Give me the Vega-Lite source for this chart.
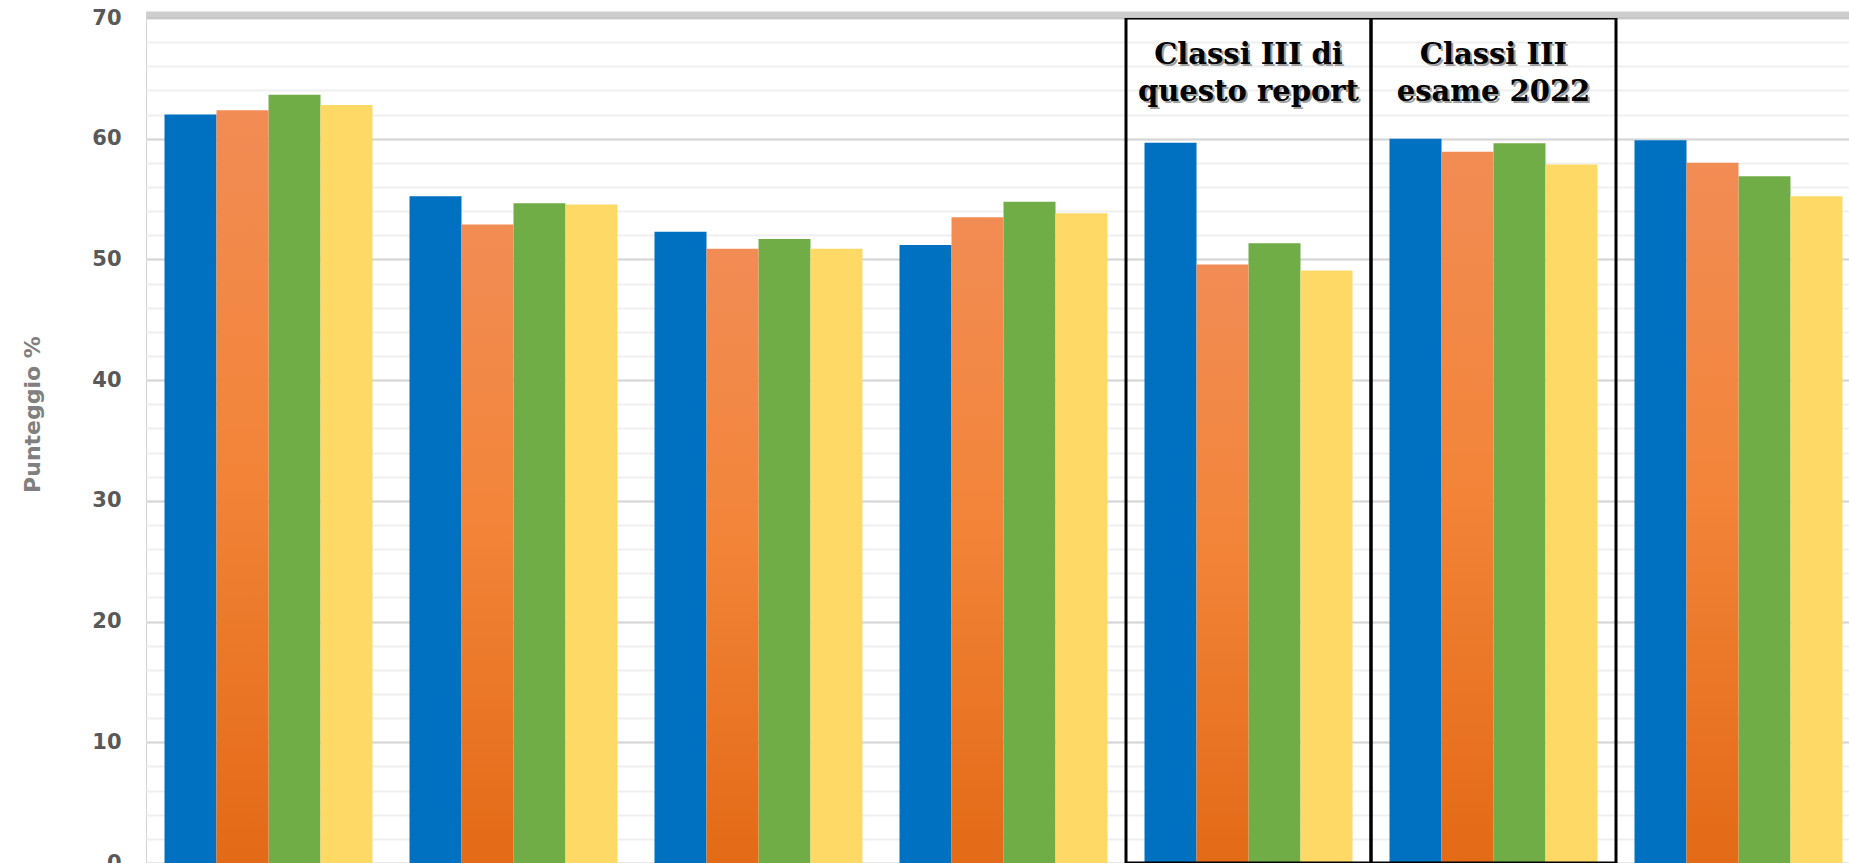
{
  "$schema": "https://vega.github.io/schema/vega-lite/v6.json",
  "width": 1703,
  "height": 845,
  "autosize": {"type": "none"},
  "padding": {"left": 146, "top": 18, "right": 0, "bottom": 0},
  "background": "white",
  "config": {"view": {"stroke": "#d4d4d4", "strokeWidth": 1}},
  "datasets": {
    "scores": [
      {"g": "Gruppo 1", "s": "Serie 1", "v": 62.0}, {"g": "Gruppo 1", "s": "Serie 2", "v": 62.36}, {"g": "Gruppo 1", "s": "Serie 3", "v": 63.64}, {"g": "Gruppo 1", "s": "Serie 4", "v": 62.8},
      {"g": "Gruppo 2", "s": "Serie 1", "v": 55.24}, {"g": "Gruppo 2", "s": "Serie 2", "v": 52.9}, {"g": "Gruppo 2", "s": "Serie 3", "v": 54.66}, {"g": "Gruppo 2", "s": "Serie 4", "v": 54.55},
      {"g": "Gruppo 3", "s": "Serie 1", "v": 52.29}, {"g": "Gruppo 3", "s": "Serie 2", "v": 50.88}, {"g": "Gruppo 3", "s": "Serie 3", "v": 51.7}, {"g": "Gruppo 3", "s": "Serie 4", "v": 50.88},
      {"g": "Gruppo 4", "s": "Serie 1", "v": 51.2}, {"g": "Gruppo 4", "s": "Serie 2", "v": 53.5}, {"g": "Gruppo 4", "s": "Serie 3", "v": 54.77}, {"g": "Gruppo 4", "s": "Serie 4", "v": 53.83},
      {"g": "Gruppo 5", "s": "Serie 1", "v": 59.66}, {"g": "Gruppo 5", "s": "Serie 2", "v": 49.58}, {"g": "Gruppo 5", "s": "Serie 3", "v": 51.34}, {"g": "Gruppo 5", "s": "Serie 4", "v": 49.08},
      {"g": "Gruppo 6", "s": "Serie 1", "v": 59.99}, {"g": "Gruppo 6", "s": "Serie 2", "v": 58.91}, {"g": "Gruppo 6", "s": "Serie 3", "v": 59.63}, {"g": "Gruppo 6", "s": "Serie 4", "v": 57.86},
      {"g": "Gruppo 7", "s": "Serie 1", "v": 59.88}, {"g": "Gruppo 7", "s": "Serie 2", "v": 58.0}, {"g": "Gruppo 7", "s": "Serie 3", "v": 56.89}, {"g": "Gruppo 7", "s": "Serie 4", "v": 55.24}
    ],
    "boxes": [
      {"g": "Gruppo 5", "label": ["Classi III di", "questo report"]},
      {"g": "Gruppo 6", "label": ["Classi III", "esame 2022"]}
    ]
  },
  "resolve": {"axis": {"y": "independent"}},
  "layer": [
    {
      "data": {"name": "scores"},
      "transform": [{"filter": "datum.s !== 'Serie 2'"}],
      "mark": {"type": "bar", "clip": true},
      "encoding": {
        "x": {"field": "g", "type": "nominal", "sort": null, "axis": null,
              "scale": {"domain": ["Gruppo 1", "Gruppo 2", "Gruppo 3", "Gruppo 4", "Gruppo 5", "Gruppo 6", "Gruppo 7"], "range": [0, 1715], "paddingInner": 0, "paddingOuter": 0}},
        "xOffset": {"field": "s", "type": "nominal",
                    "scale": {"domain": ["Serie 1", "Serie 2", "Serie 3", "Serie 4"], "paddingInner": 0, "paddingOuter": 0.356}},
        "y": {"field": "v", "type": "quantitative",
              "scale": {"domain": [0, 70], "nice": false, "zero": true},
              "axis": {"orient": "left", "values": [0,2,4,6,8,10,12,14,16,18,20,22,24,26,28,30,32,34,36,38,40,42,44,46,48,50,52,54,56,58,60,62,64,66,68,70],
                       "grid": true, "gridColor": "#efefef", "gridWidth": 2, "labels": false, "ticks": false, "domain": false, "title": null}},
        "color": {"field": "s", "type": "nominal", "legend": null,
                  "scale": {"domain": ["Serie 1", "Serie 3", "Serie 4"], "range": ["#0070C0", "#70AD47", "#FFD966"]}}
      }
    },
    {
      "data": {"name": "scores"},
      "transform": [{"filter": "datum.s === 'Serie 2'"}],
      "mark": {"type": "bar", "clip": true,
               "color": {"gradient": "linear", "x1": 0, "y1": 0, "x2": 0, "y2": 1,
                         "stops": [{"offset": 0, "color": "#F18C54"}, {"offset": 0.45, "color": "#F3853A"}, {"offset": 1, "color": "#E36A16"}]}},
      "encoding": {
        "x": {"field": "g", "type": "nominal", "sort": null, "axis": null},
        "xOffset": {"field": "s", "type": "nominal"},
        "y": {"field": "v", "type": "quantitative",
              "axis": {"orient": "left", "values": [0, 10, 20, 30, 40, 50, 60, 70],
                       "grid": true, "gridColor": "#d6d6d6", "gridWidth": 2, "ticks": false, "domain": false,
                       "labelPadding": 25, "labelFont": "DejaVu Sans", "labelFontSize": 21, "labelFontWeight": "bold", "labelColor": "#595959",
                       "title": "Punteggio %", "titleFont": "DejaVu Sans", "titleFontSize": 22, "titleFontWeight": "bold", "titleColor": "#808080",
                       "titlePadding": 47, "titleY": 396}}
      }
    },
    {
      "data": {"values": [{"top": 70}]},
      "mark": {"type": "rule", "color": "#a8a8a8", "strokeWidth": 7, "yOffset": -3, "opacity": 0.55},
      "encoding": {"y": {"field": "top", "type": "quantitative", "axis": null}}
    },
    {
      "data": {"name": "boxes"},
      "mark": {"type": "rect", "fill": null, "fillOpacity": 0, "stroke": "#000000", "strokeWidth": 3, "clip": true},
      "encoding": {
        "x": {"field": "g", "type": "nominal", "sort": null, "axis": null},
        "y": {"datum": 70, "type": "quantitative", "axis": null},
        "y2": {"datum": 0}
      }
    },
    {
      "data": {"name": "boxes"},
      "mark": {"type": "text", "font": "DejaVu Serif", "fontWeight": "bold", "fontSize": 29, "lineHeight": 37, "baseline": "alphabetic", "align": "center", "color": "#777777", "opacity": 0.7, "dx": 2, "dy": 2},
      "encoding": {
        "x": {"field": "g", "type": "nominal", "sort": null, "axis": null},
        "y": {"datum": 66.15, "type": "quantitative", "axis": null},
        "text": {"field": "label"}
      }
    },
    {
      "data": {"name": "boxes"},
      "mark": {"type": "text", "font": "DejaVu Serif", "fontWeight": "bold", "fontSize": 29, "lineHeight": 37, "baseline": "alphabetic", "align": "center", "color": "#000000"},
      "encoding": {
        "x": {"field": "g", "type": "nominal", "sort": null, "axis": null},
        "y": {"datum": 66.15, "type": "quantitative", "axis": null},
        "text": {"field": "label"}
      }
    }
  ]
}
